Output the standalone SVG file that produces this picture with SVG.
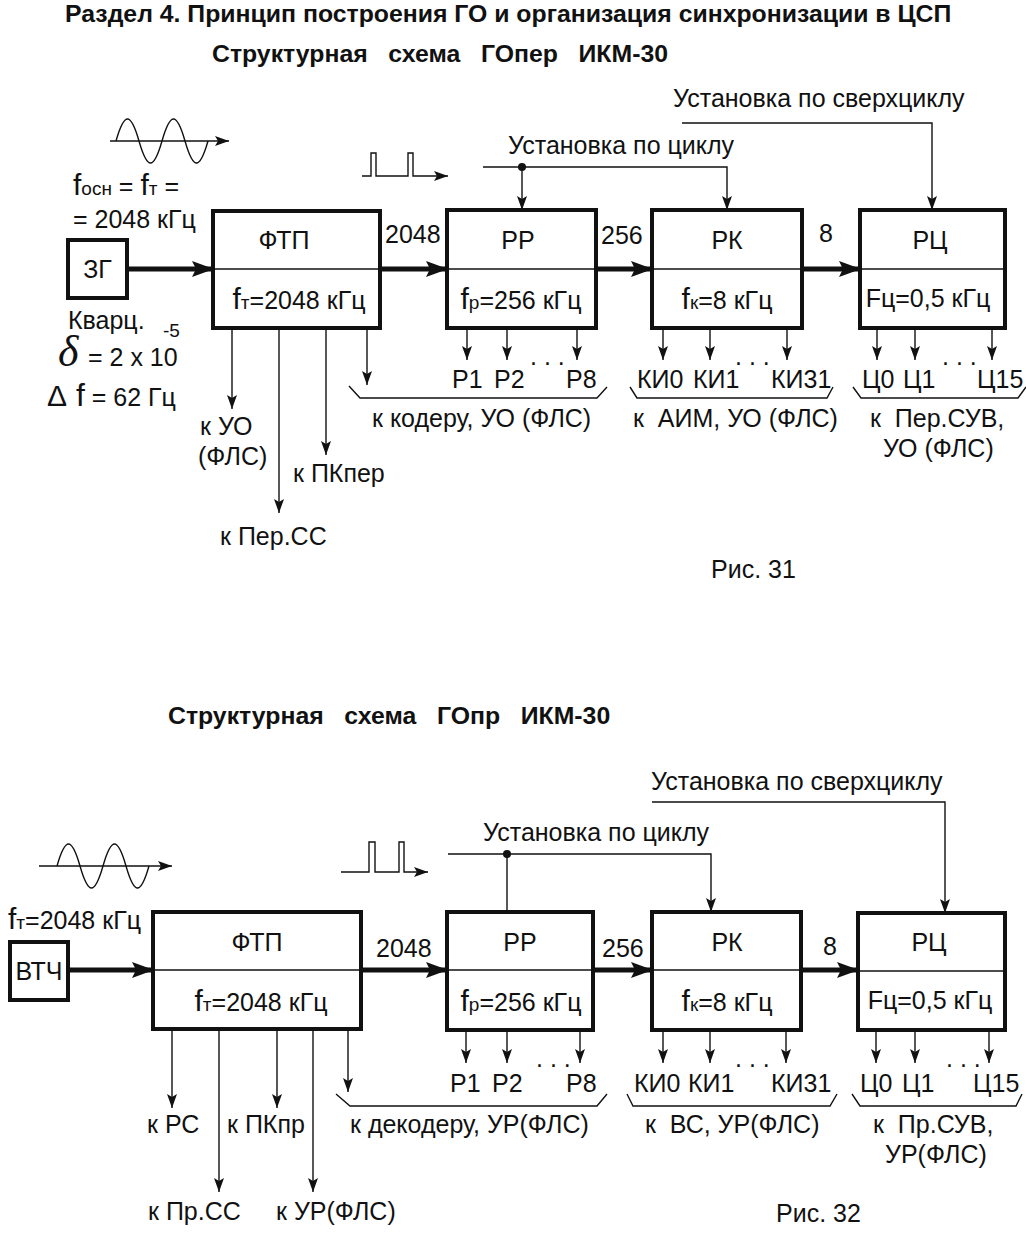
<svg xmlns="http://www.w3.org/2000/svg" width="1026" height="1236" viewBox="0 0 1026 1236">
<style>
text{font-family:"Liberation Sans",Arial,sans-serif;fill:#111}
.h{font-weight:bold;font-size:24.8px}
.t{font-size:25px}
.m{font-size:25px}
.c{text-anchor:middle}
.s{font-size:19px}
.bf{font-size:30px}
.box{fill:#fff;stroke:#111;stroke-width:4}
.div{stroke:#111;stroke-width:1.5}
.thick{stroke:#111;stroke-width:5;fill:none}
.thin{stroke:#111;stroke-width:1.4;fill:none}
.br{stroke:#111;stroke-width:1.4;fill:none}
</style>
<defs>
<marker id="ah" markerUnits="userSpaceOnUse" markerWidth="22" markerHeight="16" refX="21" refY="8" orient="auto"><path d="M0,0 L22,8 L0,16 L4,8 z" fill="#111"/></marker>
<marker id="a" markerUnits="userSpaceOnUse" markerWidth="14" markerHeight="10" refX="14" refY="5" orient="auto"><path d="M0,0 L14,5 L0,10 L3,5 z" fill="#111"/></marker>
</defs>
<rect width="1026" height="1236" fill="#fff"/>

<!-- Titles -->
<text class="h" x="65" y="22">Раздел 4. Принцип построения ГО и организация синхронизации в ЦСП</text>
<text class="h" x="212" y="62" xml:space="preserve">Структурная   схема   ГОпер   ИКМ-30</text>
<text class="h" x="168" y="724" xml:space="preserve">Структурная   схема   ГОпр   ИКМ-30</text>

<!-- ===== Fig 31 ===== -->
<g id="signals31">
<path class="thin" d="M116,141 C120,127 124,119 127.5,119 C131,119 135,127 139,141 C143,155 147,163 150.5,163 C154,163 158,155 162,141 C166,127 170,119 173.5,119 C177,119 181,127 185,141 C189,155 193,163 196.5,163 C200,163 204,155 208,141"/>
<line class="thin" x1="110" y1="141" x2="229" y2="141" marker-end="url(#a)"/>
<path class="thin" d="M362,176 L371,176 L371,153 L376,153 L376,176 L408,176 L408,153 L413,153 L413,176 L448,176" marker-end="url(#a)"/>
</g>
<g id="params31">
<text x="73" y="195"><tspan class="bf">f</tspan><tspan class="s">осн</tspan><tspan class="t" xml:space="preserve"> = </tspan><tspan class="bf">f</tspan><tspan class="s">т</tspan><tspan class="t" xml:space="preserve"> =</tspan></text>
<text class="t" x="73" y="228">= 2048 кГц</text>
<text class="t" x="68" y="329">Кварц.</text>
<text x="58" y="366" style="font-family:'Liberation Serif',serif;font-style:italic;font-size:44px">δ</text>
<text class="t" x="88" y="366">= 2 x 10</text>
<text class="s" x="163" y="337">-5</text>
<text x="47" y="406"><tspan style="font-size:30px">Δ</tspan><tspan style="font-size:32px"> f</tspan><tspan class="t"> = 62 Гц</tspan></text>
</g>

<g id="ZG">
<rect class="box" x="68" y="240" width="59" height="58"/>
<text class="t c" x="97.5" y="278">ЗГ</text>
</g>
<g id="FTP1">
<rect class="box" x="213" y="211" width="167" height="117"/>
<line class="div" x1="213" y1="269" x2="380" y2="269"/>
<text class="t c" x="284" y="249">ФТП</text>
<text class="m c" x="299" y="309"><tspan class="bf">f</tspan><tspan class="s">т</tspan>=2048 кГц</text>
</g>
<g id="RR1">
<rect class="box" x="447" y="210" width="149" height="118"/>
<line class="div" x1="447" y1="269" x2="596" y2="269"/>
<text class="t c" x="518" y="249">РР</text>
<text class="m c" x="521" y="309"><tspan class="bf">f</tspan><tspan class="s">р</tspan>=256 кГц</text>
</g>
<g id="RK1">
<rect class="box" x="652" y="210" width="150" height="118"/>
<line class="div" x1="652" y1="269" x2="802" y2="269"/>
<text class="t c" x="727" y="249">РК</text>
<text class="m c" x="727" y="309"><tspan class="bf">f</tspan><tspan class="s">к</tspan>=8 кГц</text>
</g>
<g id="RC1">
<rect class="box" x="860" y="210" width="145" height="118"/>
<line class="div" x1="860" y1="269" x2="1005" y2="269"/>
<text class="t c" x="930" y="249">РЦ</text>
<text class="t c" x="928" y="307">Fц=0,5 кГц</text>
</g>

<g id="connectors31">
<line class="thick" x1="127" y1="269" x2="213" y2="269" marker-end="url(#ah)"/>
<line class="thick" x1="380" y1="269" x2="447" y2="269" marker-end="url(#ah)"/>
<line class="thick" x1="596" y1="269" x2="652" y2="269" marker-end="url(#ah)"/>
<line class="thick" x1="802" y1="269" x2="860" y2="269" marker-end="url(#ah)"/>
<polyline class="thin" points="483,167 727,167 727,210" marker-end="url(#a)"/>
<line class="thin" x1="522" y1="167" x2="522" y2="210" marker-end="url(#a)"/>
<circle cx="522" cy="167" r="4" fill="#111"/>
<polyline class="thin" points="682,123 932,123 932,210" marker-end="url(#a)"/>
<line class="thin" x1="232" y1="328" x2="232" y2="409" marker-end="url(#a)"/>
<line class="thin" x1="279" y1="328" x2="279" y2="513" marker-end="url(#a)"/>
<line class="thin" x1="326" y1="328" x2="326" y2="455" marker-end="url(#a)"/>
<line class="thin" x1="367" y1="328" x2="367" y2="385" marker-end="url(#a)"/>
<line class="thin" x1="467" y1="328" x2="467" y2="360" marker-end="url(#a)"/>
<line class="thin" x1="507" y1="328" x2="507" y2="360" marker-end="url(#a)"/>
<line class="thin" x1="577" y1="328" x2="577" y2="360" marker-end="url(#a)"/>
<line class="thin" x1="663" y1="328" x2="663" y2="360" marker-end="url(#a)"/>
<line class="thin" x1="710" y1="328" x2="710" y2="360" marker-end="url(#a)"/>
<line class="thin" x1="787" y1="328" x2="787" y2="360" marker-end="url(#a)"/>
<line class="thin" x1="877" y1="328" x2="877" y2="360" marker-end="url(#a)"/>
<line class="thin" x1="915" y1="328" x2="915" y2="360" marker-end="url(#a)"/>
<line class="thin" x1="992" y1="328" x2="992" y2="360" marker-end="url(#a)"/>
<polyline class="br" points="349,386 360,398 597,398 607,387"/>
<polyline class="br" points="630,387 637,398 827,398 833,387"/>
<polyline class="br" points="853,387 861,398 1018,398 1026,387"/>
</g>

<g id="labels31">
<text class="t" x="385" y="243">2048</text>
<text class="t" x="601" y="244">256</text>
<text class="t" x="819" y="242">8</text>
<text class="t" x="508" y="154">Установка по циклу</text>
<text class="t" x="673" y="107">Установка по сверхциклу</text>
<text class="t" x="200" y="435">к УО</text>
<text class="t" x="198" y="465">(ФЛС)</text>
<text class="t" x="220" y="545">к Пер.СС</text>
<text class="t" x="293" y="482">к ПКпер</text>
<text class="t" x="452" y="388">Р1</text>
<text class="t" x="494" y="388">Р2</text>
<text class="t" x="530" y="365">. . .</text>
<text class="t" x="566" y="388">Р8</text>
<text class="t" x="637" y="388">КИ0</text>
<text class="t" x="693" y="388">КИ1</text>
<text class="t" x="735" y="365">. . .</text>
<text class="t" x="771" y="388">КИ31</text>
<text class="t" x="862" y="388">Ц0</text>
<text class="t" x="903" y="388">Ц1</text>
<text class="t" x="942" y="365">. . .</text>
<text class="t" x="977" y="388">Ц15</text>
<text class="t" x="372" y="427">к кодеру, УО (ФЛС)</text>
<text class="t" x="633" y="427" xml:space="preserve">к  АИМ, УО (ФЛС)</text>
<text class="t" x="870" y="427" xml:space="preserve">к  Пер.СУВ,</text>
<text class="t" x="883" y="457">УО (ФЛС)</text>
<text class="t" x="711" y="578">Рис. 31</text>
</g>

<!-- ===== Fig 32 ===== -->
<g id="signals32">
<path class="thin" d="M57,866 C61,852 65,844 68.5,844 C72,844 76,852 80,866 C84,880 88,888 91.5,888 C95,888 99,880 103,866 C107,852 111,844 114.5,844 C118,844 122,852 126,866 C130,880 134,888 137.5,888 C141,888 145,880 149,866"/>
<line class="thin" x1="39" y1="866" x2="172" y2="866" marker-end="url(#a)"/>
<path class="thin" d="M341,872 L369,872 L369,842 L375,842 L375,872 L399,872 L399,842 L404,842 L404,872 L428,872" marker-end="url(#a)"/>
</g>
<text id="ft32" x="8" y="929"><tspan class="bf">f</tspan><tspan class="s">т</tspan><tspan class="m">=2048 кГц</tspan></text>

<g id="VTCH">
<rect class="box" x="10" y="942" width="58" height="58"/>
<text class="t c" x="39" y="980">ВТЧ</text>
</g>
<g id="FTP2">
<rect class="box" x="153" y="912" width="208" height="117"/>
<line class="div" x1="153" y1="970" x2="361" y2="970"/>
<text class="t c" x="257" y="951">ФТП</text>
<text class="m c" x="261" y="1011"><tspan class="bf">f</tspan><tspan class="s">т</tspan>=2048 кГц</text>
</g>
<g id="RR2">
<rect class="box" x="447" y="912" width="146" height="118"/>
<line class="div" x1="447" y1="970" x2="593" y2="970"/>
<text class="t c" x="520" y="951">РР</text>
<text class="m c" x="521" y="1011"><tspan class="bf">f</tspan><tspan class="s">р</tspan>=256 кГц</text>
</g>
<g id="RK2">
<rect class="box" x="652" y="912" width="149" height="118"/>
<line class="div" x1="652" y1="970" x2="801" y2="970"/>
<text class="t c" x="727" y="951">РК</text>
<text class="m c" x="727" y="1011"><tspan class="bf">f</tspan><tspan class="s">к</tspan>=8 кГц</text>
</g>
<g id="RC2">
<rect class="box" x="858" y="913" width="147" height="117"/>
<line class="div" x1="858" y1="971" x2="1005" y2="971"/>
<text class="t c" x="929" y="951">РЦ</text>
<text class="t c" x="930" y="1009">Fц=0,5 кГц</text>
</g>

<g id="connectors32">
<line class="thick" x1="68" y1="970" x2="153" y2="970" marker-end="url(#ah)"/>
<line class="thick" x1="361" y1="970" x2="447" y2="970" marker-end="url(#ah)"/>
<line class="thick" x1="593" y1="970" x2="652" y2="970" marker-end="url(#ah)"/>
<line class="thick" x1="801" y1="970" x2="858" y2="970" marker-end="url(#ah)"/>
<polyline class="thin" points="448,854 711,854 711,912" marker-end="url(#a)"/>
<line class="thin" x1="507" y1="854" x2="507" y2="912"/>
<circle cx="507" cy="854" r="4" fill="#111"/>
<polyline class="thin" points="652,802 945,802 945,913" marker-end="url(#a)"/>
<line class="thin" x1="172" y1="1029" x2="172" y2="1108" marker-end="url(#a)"/>
<line class="thin" x1="219" y1="1029" x2="219" y2="1192" marker-end="url(#a)"/>
<line class="thin" x1="277" y1="1029" x2="277" y2="1108" marker-end="url(#a)"/>
<line class="thin" x1="313" y1="1029" x2="313" y2="1192" marker-end="url(#a)"/>
<line class="thin" x1="348" y1="1029" x2="348" y2="1092" marker-end="url(#a)"/>
<line class="thin" x1="466" y1="1030" x2="466" y2="1063" marker-end="url(#a)"/>
<line class="thin" x1="507" y1="1030" x2="507" y2="1063" marker-end="url(#a)"/>
<line class="thin" x1="580" y1="1030" x2="580" y2="1063" marker-end="url(#a)"/>
<line class="thin" x1="663" y1="1030" x2="663" y2="1063" marker-end="url(#a)"/>
<line class="thin" x1="710" y1="1030" x2="710" y2="1063" marker-end="url(#a)"/>
<line class="thin" x1="786" y1="1030" x2="786" y2="1063" marker-end="url(#a)"/>
<line class="thin" x1="876" y1="1030" x2="876" y2="1063" marker-end="url(#a)"/>
<line class="thin" x1="915" y1="1030" x2="915" y2="1063" marker-end="url(#a)"/>
<line class="thin" x1="989" y1="1030" x2="989" y2="1063" marker-end="url(#a)"/>
<polyline class="br" points="336,1094 350,1106 597,1106 607,1094"/>
<polyline class="br" points="627,1094 633,1106 830,1106 837,1094"/>
<polyline class="br" points="852,1094 860,1106 1016,1106 1022,1094"/>
</g>

<g id="labels32">
<text class="t" x="376" y="957">2048</text>
<text class="t" x="602" y="957">256</text>
<text class="t" x="823" y="955">8</text>
<text class="t" x="483" y="841">Установка по циклу</text>
<text class="t" x="651" y="790">Установка по сверхциклу</text>
<text class="t" x="147" y="1133">к РС</text>
<text class="t" x="148" y="1220">к Пр.СС</text>
<text class="t" x="227" y="1133">к ПКпр</text>
<text class="t" x="276" y="1220">к УР(ФЛС)</text>
<text class="t" x="450" y="1092">Р1</text>
<text class="t" x="492" y="1092">Р2</text>
<text class="t" x="536" y="1067">. . .</text>
<text class="t" x="566" y="1092">Р8</text>
<text class="t" x="634" y="1092">КИ0</text>
<text class="t" x="688" y="1092">КИ1</text>
<text class="t" x="735" y="1067">. . .</text>
<text class="t" x="771" y="1092">КИ31</text>
<text class="t" x="860" y="1092">Ц0</text>
<text class="t" x="902" y="1092">Ц1</text>
<text class="t" x="946" y="1067">. . .</text>
<text class="t" x="973" y="1092">Ц15</text>
<text class="t" x="350" y="1133">к декодеру, УР(ФЛС)</text>
<text class="t" x="645" y="1133" xml:space="preserve">к  ВС, УР(ФЛС)</text>
<text class="t" x="873" y="1133" xml:space="preserve">к  Пр.СУВ,</text>
<text class="t" x="885" y="1163">УР(ФЛС)</text>
<text class="t" x="776" y="1222">Рис. 32</text>
</g>
</svg>
